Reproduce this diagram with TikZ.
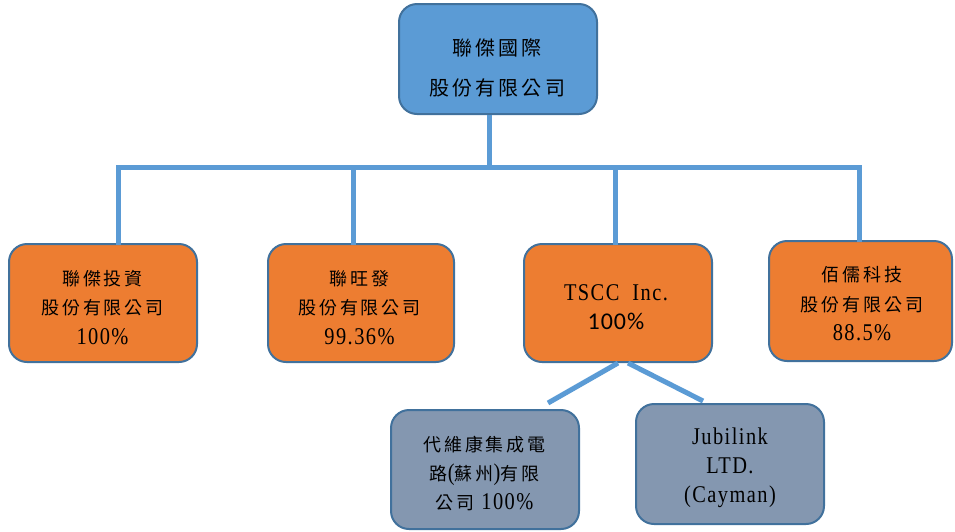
\documentclass[tikz,border=0pt]{standalone}
\usepackage{fontspec}
\newfontfamily\cjk[LetterSpace=16]{Noto Sans CJK TC}
\newfontfamily\latf[FakeStretch=0.85,LetterSpace=6]{Liberation Serif}
\newfontfamily\calib[LetterSpace=4]{Carlito}
\newcommand\lt[1]{{\latf\fontsize{24}{29.5}\selectfont #1}}
\newcommand\cb[1]{{\calib\fontsize{24}{29.5}\selectfont #1}}
\definecolor{topblue}{HTML}{5B9BD5}
\definecolor{bd}{HTML}{41719C}
\definecolor{org}{HTML}{ED7D31}
\definecolor{gry}{HTML}{8497B0}
\definecolor{ln}{HTML}{5B9BD5}
\begin{document}
\begin{tikzpicture}[x=1pt,y=-1pt,
  box/.style={draw=bd, line width=2pt, rounded corners=18pt, inner sep=0pt},
  txt/.style={align=center, inner sep=0pt, font={\fontsize{18}{29.5}\selectfont\cjk}},
  conn/.style={draw=ln, line width=5pt}]
\useasboundingbox (0,0) rectangle (955,531);
% boxes
\node[box, fill=topblue, minimum width=198pt, minimum height=110pt] (top) at (498,59) {};
\node[box, fill=org, minimum width=188pt, minimum height=118pt] (b1) at (103,303) {};
\node[box, fill=org, minimum width=186pt, minimum height=118pt] (b2) at (361,303) {};
\node[box, fill=org, minimum width=188pt, minimum height=118pt] (b3) at (618,303) {};
\node[box, fill=org, minimum width=183pt, minimum height=120pt] (b4) at (860.5,301) {};
\node[box, fill=gry, minimum width=188pt, minimum height=119pt] (c1) at (485,469.5) {};
\node[box, fill=gry, minimum width=188pt, minimum height=120pt] (c2) at (730,464) {};
% texts
\node[txt, font={\fontsize{20}{40}\selectfont\cjk}] (topt) at (497,68) {聯傑國際\\股份有限公司};
\node[txt] (b1t) at (102.5,307.5) {聯傑投資\\股份有限公司\\\lt{100\%}};
\node[txt] (b2t) at (359.5,307.5) {聯旺發\\股份有限公司\\\lt{99.36\%}};
\node[txt] (b3t) at (616,307) {\lt{TSCC\ \ Inc.}\\\cb{100\%}};
\node[txt] (b4t) at (862,304) {佰儒科技\\股份有限公司\\\lt{88.5\%}};
\node[txt, font={\fontsize{18}{29}\selectfont\cjk}] (c1t) at (484.5,473.5) {代維康集成電\\路\lt{(}蘇州\lt{)}有限\\公司 \lt{100\%}};
\node[txt, font={\fontsize{18}{29}\selectfont\cjk}] (c2t) at (730,467.5) {\lt{Jubilink}\\\lt{LTD.}\\\lt{(Cayman)}};
% connectors
\coordinate (t0) at (489,167);
\coordinate (j1) at (118,167);
\coordinate (j2) at (353,167);
\coordinate (j3) at (615,167);
\coordinate (j4) at (859,167);
\coordinate (e1) at (548,403);
\coordinate (e2) at (703,401);
\draw[conn] (t0 |- top.south) -- (t0);
\draw[conn, line join=miter] ([yshift=-2pt]j1 |- b1.north) -- (j1) -- (j4) -- ([yshift=-2pt]j4 |- b4.north);
\draw[conn] (j2) -- ([yshift=-2pt]j2 |- b2.north);
\draw[conn] (j3) -- ([yshift=-2pt]j3 |- b3.north);
\draw[conn] (b3.south) -- (e1);
\draw[conn] ([xshift=10pt]b3.south) -- (e2);
\end{tikzpicture}
\end{document}
